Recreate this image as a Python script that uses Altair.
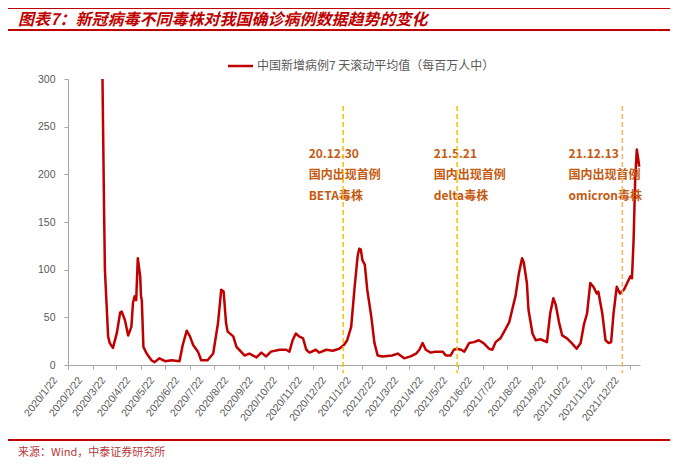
import altair as alt
import pandas as pd

# ---------------- data ----------------
dates = [
    "2020-03-05", "2020-03-06", "2020-03-07", "2020-03-08", "2020-03-10", "2020-03-12",
    "2020-03-14", "2020-03-18", "2020-03-23", "2020-03-27", "2020-03-29", "2020-04-02",
    "2020-04-06", "2020-04-10", "2020-04-12", "2020-04-14", "2020-04-16", "2020-04-18",
    "2020-04-21", "2020-04-22", "2020-04-23", "2020-04-25", "2020-04-29", "2020-05-05",
    "2020-05-09", "2020-05-15", "2020-05-22", "2020-05-30", "2020-06-09", "2020-06-13",
    "2020-06-18", "2020-06-22", "2020-06-26", "2020-07-02", "2020-07-06", "2020-07-14",
    "2020-07-21", "2020-07-27", "2020-07-31", "2020-08-03", "2020-08-06", "2020-08-08",
    "2020-08-15", "2020-08-19", "2020-08-29", "2020-09-04", "2020-09-13", "2020-09-19",
    "2020-09-25", "2020-10-01", "2020-10-12", "2020-10-20", "2020-10-24", "2020-10-28",
    "2020-11-01", "2020-11-05", "2020-11-10", "2020-11-14", "2020-11-18", "2020-11-26",
    "2020-11-30", "2020-12-09", "2020-12-17", "2020-12-25", "2020-12-31", "2021-01-04",
    "2021-01-09", "2021-01-13", "2021-01-17", "2021-01-19", "2021-01-21", "2021-01-23",
    "2021-01-26", "2021-01-29", "2021-02-03", "2021-02-07", "2021-02-11", "2021-02-17",
    "2021-03-01", "2021-03-08", "2021-03-16", "2021-03-24", "2021-03-31", "2021-04-04",
    "2021-04-08", "2021-04-12", "2021-04-18", "2021-04-24", "2021-05-03", "2021-05-07",
    "2021-05-13", "2021-05-17", "2021-05-21", "2021-05-26", "2021-05-30", "2021-06-05",
    "2021-06-11", "2021-06-17", "2021-06-23", "2021-06-30", "2021-07-04", "2021-07-08",
    "2021-07-14", "2021-07-20", "2021-07-25", "2021-07-29", "2021-08-02", "2021-08-06",
    "2021-08-10", "2021-08-12", "2021-08-16", "2021-08-18", "2021-08-23", "2021-08-27",
    "2021-09-02", "2021-09-10", "2021-09-14", "2021-09-18", "2021-09-21", "2021-09-25",
    "2021-09-29", "2021-10-05", "2021-10-11", "2021-10-17", "2021-10-22", "2021-10-26",
    "2021-10-30", "2021-11-03", "2021-11-07", "2021-11-11", "2021-11-13", "2021-11-18",
    "2021-11-22", "2021-11-26", "2021-11-29", "2021-12-02", "2021-12-06", "2021-12-10",
    "2021-12-15", "2021-12-19", "2021-12-23", "2021-12-25", "2021-12-27", "2021-12-29",
    "2021-12-31", "2022-01-02", "2022-01-03",
]
values = [
    300, 230, 160, 100, 65, 30,
    23, 18, 34, 55, 56, 47,
    31, 40, 65, 72, 68, 112,
    93, 72, 68, 19, 12, 5,
    3, 7, 4, 5, 4, 21,
    36, 30, 21, 14, 5, 5,
    12, 44, 79, 77, 44, 35,
    30, 19, 10, 12, 8, 13,
    9, 14, 16, 16, 14, 26,
    33, 30, 28, 16, 13, 16,
    13, 16, 15, 17, 21, 26,
    40, 79, 114, 122, 121, 110,
    105, 79, 51, 23, 10, 9,
    10, 12, 7, 9, 12, 16,
    23, 16, 13, 14, 14, 10,
    10, 16, 17, 16, 14, 23,
    24, 26, 23, 17, 16, 24,
    28, 37, 45, 59, 73, 96,
    112, 108, 86, 58, 33, 26,
    27, 24, 54, 70, 63, 45,
    31, 28, 23, 17, 23, 42,
    54, 86, 82, 75, 77, 54,
    26, 23, 24, 54, 82, 75,
    79, 86, 93, 91, 131, 194,
    226, 215, 208,
]

tick_labels = [
    "2020/1/22", "2020/2/22", "2020/3/22", "2020/4/22", "2020/5/22", "2020/6/22",
    "2020/7/22", "2020/8/22", "2020/9/22", "2020/10/22", "2020/11/22", "2020/12/22",
    "2021/1/22", "2021/2/22", "2021/3/22", "2021/4/22", "2021/5/22", "2021/6/22",
    "2021/7/22", "2021/8/22", "2021/9/22", "2021/10/22", "2021/11/22", "2021/12/22",
]
y_ticks = [0, 50, 100, 150, 200, 250, 300]

event_dates = ["2020-12-30", "2021-05-21", "2021-12-13"]
event_colors = ["#FFC000", "#FFC000", "#F4B26A"]
ann_dates = ["2020-11-17", "2021-04-22", "2021-10-07"]
ann_texts = [
    "20.12.30\n国内出现首例\nBETA毒株",
    "21.5.21\n国内出现首例\ndelta毒株",
    "21.12.13\n国内出现首例\nomicron毒株",
]

series_name = "中国新增病例7 天滚动平均值（每百万人中）"
title_text = "图表7：新冠病毒不同毒株对我国确诊病例数据趋势的变化"
source_text = "来源：Wind，中泰证券研究所"

# ---------------- helpers ----------------
def to_dt(label):
    y, m, d = [int(p) for p in label.split("/")]
    return alt.DateTime(year=y, month=m, date=d, utc=True)

W, H = 572, 286
RED = "#C00000"
GRAY = "#595959"
AX = "#A6A6A6"
CJK = "Noto Sans CJK SC"

df = pd.DataFrame({"date": dates, "value": values})
ev = pd.DataFrame({"date": event_dates, "color": event_colors})
ann = pd.DataFrame({"date": ann_dates, "text": ann_texts})
one = pd.DataFrame({"k": [0]})

x_scale = alt.Scale(
    type="utc",
    domain=[to_dt("2020/1/22"), to_dt("2022/1/4")],
)
y_scale = alt.Scale(domain=[0, 300], nice=False)

x_axis = alt.Axis(
    values=[to_dt(t) for t in tick_labels],
    labelExpr="utcFormat(datum.value, '%Y/%-m/%-d')",
    labelAngle=-52,
    labelAlign="right",
    labelBaseline="middle",
    labelOffset=-13,
    labelPadding=9,
    labelFont="Liberation Sans",
    labelFontSize=10.5,
    labelColor=GRAY,
    labelOverlap=False,
    labelFlush=False,
    tickSize=4,
    tickColor=AX,
    domainColor=AX,
    grid=False,
    title=None,
)
y_axis = alt.Axis(
    values=y_ticks,
    labelFont="Liberation Sans",
    labelFontSize=10.5,
    labelColor=GRAY,
    labelPadding=9,
    tickSize=4,
    tickColor=AX,
    domainColor=AX,
    grid=False,
    title=None,
)

line = alt.Chart(df).mark_line(color=RED, strokeWidth=2.5, strokeJoin="round").encode(
    x=alt.X("date:T", scale=x_scale, axis=x_axis),
    y=alt.Y("value:Q", scale=y_scale, axis=y_axis),
)

vlines = alt.Chart(ev).mark_rule(strokeDash=[5, 3], strokeWidth=1.5).encode(
    x=alt.X("date:T", scale=x_scale, axis=x_axis),
    y=alt.value(27),
    y2=alt.value(294),
    color=alt.Color("color:N", scale=None),
)

ann_text = alt.Chart(ann).mark_text(
    align="left", baseline="top", font=CJK, fontSize=12, fontWeight="bold",
    color="#C55A11", lineBreak="\n", lineHeight=21,
).encode(
    x=alt.X("date:T", scale=x_scale, axis=x_axis),
    y=alt.value(70),
    text="text:N",
)

legend_line = alt.Chart(one).mark_rule(color=RED, strokeWidth=2.5).encode(
    x=alt.value(160), x2=alt.value(185), y=alt.value(-13)
)
legend_text = alt.Chart(one).mark_text(
    text=series_name, align="left", baseline="middle", font=CJK, fontSize=12, color=GRAY
).encode(x=alt.value(189), y=alt.value(-13))

title_rules = alt.Chart(pd.DataFrame({"yy": [-71, -49, 361]})).mark_rule(color=RED, strokeWidth=2).encode(
    x=alt.value(-60), x2=alt.value(602), y=alt.Y("yy:Q", scale=None)
)
title = alt.Chart(one).mark_text(
    text=title_text, align="left", baseline="middle", font=CJK, fontSize=16,
    fontWeight="bold", fontStyle="italic", color=RED,
).encode(x=alt.value(-50), y=alt.value(-59))
source = alt.Chart(one).mark_text(
    text=source_text, align="left", baseline="middle", font=CJK, fontSize=11, color="#B8383A"
).encode(x=alt.value(-50), y=alt.value(374))

chart = alt.layer(
    line, ann_text, vlines, legend_line, legend_text, title_rules, title, source
).properties(
    width=W, height=H,
    autosize=alt.AutoSizeParams(type="none"),
    padding={"left": 60, "top": 71, "right": 39, "bottom": 98},
    background="white",
).configure_view(stroke=None)

chart.save("out.html", embed_options={"renderer": "svg", "actions": False})
